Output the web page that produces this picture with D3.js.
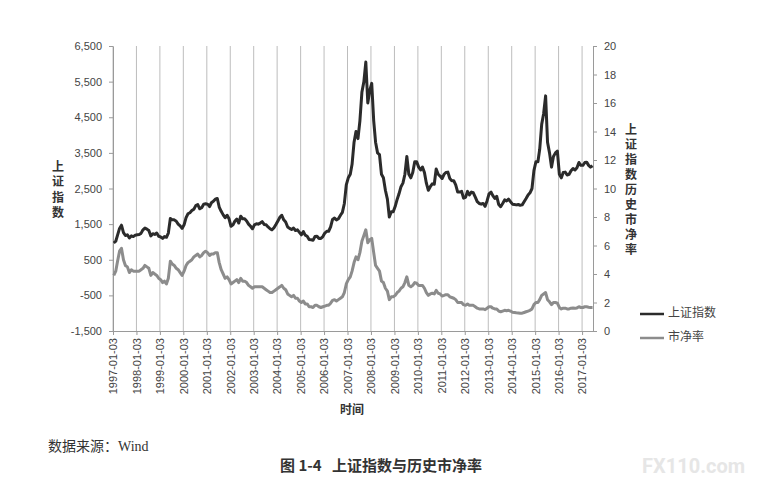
<!DOCTYPE html>
<html>
<head>
<meta charset="utf-8">
<script src="https://cdn.jsdelivr.net/npm/d3@7/dist/d3.min.js"></script>
<style>
  body { margin: 0; background: #fff; }
  svg { font-family: "Noto Sans", "Noto Sans CJK SC", sans-serif; }
</style>
</head>
<body>
<svg width="757" height="490" id="mainsvg"></svg>
<script>
// x tick labels (one per year)
const tickLabels = ['1997-01-03','1998-01-03','1999-01-03','2000-01-03','2001-01-03','2002-01-03',
  '2003-01-03','2004-01-03','2005-01-03','2006-01-03','2007-01-03','2008-01-03','2009-01-03',
  '2010-01-03','2011-01-03','2012-01-03','2013-01-03','2014-01-03','2015-01-03','2016-01-03','2017-01-03'];

// 上证指数, monthly, 1997-01 .. 2017-06
const sseIndex = [
  970, 1020, 1190, 1380, 1470, 1260, 1180, 1200, 1110, 1170, 1150, 1190,
  1200, 1210, 1240, 1340, 1390, 1360, 1320, 1170, 1230, 1210, 1250, 1160,
  1140, 1100, 1150, 1130, 1250, 1660, 1620, 1620, 1580, 1500, 1450, 1380,
  1480, 1680, 1790, 1820, 1880, 1920, 2020, 2050, 1930, 1960, 2060, 2070,
  2060, 1990, 2100, 2140, 2200, 2220, 1980, 1860, 1760, 1680, 1750, 1650,
  1440, 1480, 1580, 1640, 1530, 1720, 1650, 1650, 1590, 1500, 1440, 1370,
  1480, 1510, 1500, 1530, 1570, 1490, 1480, 1420, 1370, 1340, 1400, 1490,
  1590, 1690, 1750, 1620, 1560, 1420, 1380, 1350, 1390, 1320, 1340, 1270,
  1200, 1290, 1190, 1160, 1070, 1060, 1050, 1150, 1160, 1100, 1100, 1150,
  1250, 1300, 1300, 1420, 1630, 1670, 1620, 1650, 1750, 1830, 2080, 2600,
  2800, 2900, 3180, 3800, 4100, 3900, 4400, 5200, 5500, 6050, 4900, 5250,
  5450, 4400, 3800, 3500, 3450, 2900, 2800, 2450, 2200, 1700, 1850, 1850,
  2000, 2200, 2350, 2550, 2650, 2900, 3400, 2900, 2800, 2950, 3250, 3250,
  3100, 3020, 3100, 2950, 2650, 2450, 2550, 2630, 2620, 3050, 2900, 2850,
  2780, 2900, 2950, 2960, 2780, 2720, 2720, 2600, 2400, 2400, 2420, 2230,
  2250, 2420, 2320, 2400, 2380, 2260, 2130, 2080, 2060, 2080, 2000, 2150,
  2350, 2400, 2300, 2220, 2280, 2050, 1990, 2080, 2180, 2150, 2200, 2130,
  2060, 2050, 2040, 2050, 2030, 2040, 2130, 2220, 2320, 2380, 2500, 3000,
  3250, 3250, 3600, 4300, 4600, 5100, 3800, 3500, 3100, 3400, 3500, 3550,
  2900, 2800, 2950, 2960, 2880, 2900, 3000, 3060, 3020, 3080, 3230, 3150,
  3150, 3230, 3240, 3150, 3100, 3140
];

// 市净率, monthly, same months
const pbRatio = [
  3.9, 4.2, 4.9, 5.6, 5.8, 5.0, 4.6, 4.5, 4.1, 4.3, 4.2, 4.2,
  4.2, 4.2, 4.3, 4.4, 4.6, 4.5, 4.4, 3.9, 4.1, 4.0, 3.9, 3.7,
  3.6, 3.4, 3.5, 3.3, 3.7, 4.9, 4.7, 4.6, 4.4, 4.3, 4.1, 3.9,
  4.2, 4.6, 4.8, 4.9, 5.0, 5.2, 5.3, 5.4, 5.2, 5.3, 5.5, 5.6,
  5.5, 5.3, 5.4, 5.4, 5.5, 5.5, 4.8, 4.3, 4.0, 3.7, 3.8, 3.6,
  3.3, 3.4, 3.5, 3.6, 3.4, 3.7, 3.5, 3.5, 3.4, 3.2, 3.1, 3.0,
  3.1, 3.1, 3.1, 3.1, 3.1, 3.0, 2.9, 2.8, 2.7, 2.7, 2.8, 2.9,
  3.0, 3.1, 3.2, 3.0, 2.9, 2.6, 2.5, 2.4, 2.5, 2.3, 2.3, 2.1,
  2.0, 2.1, 1.9, 1.9, 1.7, 1.7, 1.65, 1.8, 1.8, 1.7, 1.65, 1.7,
  1.75, 1.8, 1.8, 1.95, 2.15, 2.2, 2.1, 2.2, 2.3, 2.4, 2.7, 3.3,
  3.6, 3.8, 4.2, 4.8, 5.2, 5.0, 5.5, 6.3, 6.7, 7.1, 6.2, 6.4,
  6.5, 5.5, 4.6, 4.4, 4.2, 3.5, 3.4, 3.0, 2.8, 2.2, 2.4, 2.4,
  2.5, 2.7, 2.8, 3.0, 3.1, 3.4, 3.8, 3.2, 3.1, 3.2, 3.4, 3.35,
  3.2, 3.2, 3.2, 3.0, 2.7, 2.5, 2.6, 2.65, 2.6, 2.85, 2.65, 2.6,
  2.45, 2.5, 2.55, 2.55, 2.4, 2.35, 2.3, 2.2, 2.0, 2.0, 2.0, 1.85,
  1.8, 1.9, 1.8, 1.8, 1.8, 1.7, 1.6, 1.55, 1.55, 1.55, 1.5, 1.6,
  1.7, 1.7, 1.6, 1.55, 1.55, 1.4, 1.35, 1.4, 1.45, 1.42, 1.45, 1.4,
  1.32, 1.3, 1.28, 1.27, 1.25, 1.25, 1.3, 1.35, 1.4, 1.45, 1.55, 1.85,
  2.0, 2.0, 2.2, 2.5, 2.6, 2.7, 2.2, 2.05, 1.85, 2.0, 2.0, 1.95,
  1.65, 1.55, 1.6, 1.6, 1.55, 1.55, 1.6, 1.62, 1.6, 1.62, 1.7, 1.65,
  1.65, 1.7, 1.7, 1.67, 1.65, 1.65
];

const leftTicks = [-1500, -500, 500, 1500, 2500, 3500, 4500, 5500, 6500];
const rightTicks = [0, 2, 4, 6, 8, 10, 12, 14, 16, 18, 20];

const svg = d3.select('#mainsvg');
const parse = d3.timeParse('%Y-%m-%d');
const months = sseIndex.map((v, i) => new Date(1997, i, 15));
const tickDates = tickLabels.map(parse);

const x = d3.scaleTime().domain([parse('1997-01-03'), parse('2017-06-22')]).range([113, 593]);
const yL = d3.scaleLinear().domain([-1500, 6500]).range([331, 46]);
const yR = d3.scaleLinear().domain([0, 20]).range([331, 46]);

// vertical gridlines
svg.append('g').selectAll('line').data(tickDates).enter().append('line')
  .attr('x1', d => x(d)).attr('x2', d => x(d))
  .attr('y1', yL(6500)).attr('y2', yL(-1500))
  .attr('stroke', '#bdbdbd').attr('stroke-width', 1);

const fmt = d => d3.format(',')(d).replace('\u2212', '-');

const styleAxis = g => {
  g.select('.domain').attr('stroke', '#9a9a9a');
  g.selectAll('.tick line').attr('stroke', '#9a9a9a');
  g.selectAll('.tick text').attr('fill', '#444').attr('font-size', 11);
};

svg.append('g').attr('transform', 'translate(113,0)')
  .call(d3.axisLeft(yL).tickValues(leftTicks).tickFormat(fmt).tickSize(4).tickPadding(7).tickSizeOuter(0))
  .call(styleAxis);

svg.append('g').attr('transform', 'translate(593,0)')
  .call(d3.axisRight(yR).tickValues(rightTicks).tickSize(4).tickPadding(7).tickSizeOuter(0))
  .call(styleAxis);

const xAxis = svg.append('g').attr('transform', 'translate(0,331)')
  .call(d3.axisBottom(x).tickValues(tickDates).tickFormat((d, i) => tickLabels[i]).tickSize(4).tickSizeOuter(0))
  .call(styleAxis);
xAxis.selectAll('.tick text')
  .attr('transform', 'rotate(-90)')
  .attr('text-anchor', 'end')
  .attr('x', -7).attr('y', 0).attr('dy', '0.35em');

// series
const lineL = d3.line().x((d, i) => x(months[i])).y(d => yL(d));
const lineR = d3.line().x((d, i) => x(months[i])).y(d => yR(d));

svg.append('path').datum(pbRatio).attr('d', lineR)
  .attr('fill', 'none').attr('stroke', '#8c8c8c').attr('stroke-width', 3).attr('stroke-linejoin', 'round');
svg.append('path').datum(sseIndex).attr('d', lineL)
  .attr('fill', 'none').attr('stroke', '#2b2b2b').attr('stroke-width', 3).attr('stroke-linejoin', 'round');

// axis titles, written top to bottom as one text each
const vText = (str, cx, yTop, spacing) => {
  svg.append('text')
    .attr('x', cx).attr('y', yTop)
    .style('writing-mode', 'vertical-rl').style('text-orientation', 'upright')
    .style('letter-spacing', spacing + 'px')
    .attr('font-family', '"Noto Sans CJK SC"').attr('font-size', 12).attr('font-weight', 'bold')
    .attr('fill', '#333').text(str);
};
vText('上证指数', 58, 160, 3.5);
vText('上证指数历史市净率', 631, 123, 3);

svg.append('text').attr('x', 352).attr('y', 411)
  .attr('text-anchor', 'middle').attr('dominant-baseline', 'middle')
  .attr('font-family', '"Noto Sans CJK SC"').attr('font-size', 12).attr('font-weight', 'bold')
  .attr('fill', '#333').text('时间');

// legend
const legend = [
  { name: '上证指数', color: '#2b2b2b', y: 314 },
  { name: '市净率', color: '#8c8c8c', y: 338 }
];
const lg = svg.append('g').selectAll('g').data(legend).enter().append('g');
lg.append('line').attr('x1', 640).attr('x2', 664).attr('y1', d => d.y).attr('y2', d => d.y)
  .attr('stroke', d => d.color).attr('stroke-width', 2.5);
lg.append('text').attr('x', 668).attr('y', d => d.y).attr('dominant-baseline', 'middle')
  .attr('font-family', '"Noto Sans CJK SC"').attr('font-size', 12).attr('fill', '#444')
  .text(d => d.name);

// source + caption
svg.append('text').attr('x', 48).attr('y', 448).attr('dominant-baseline', 'middle')
  .attr('font-family', '"Liberation Serif", "Noto Sans CJK SC"').attr('font-size', 14)
  .attr('fill', '#333').text('数据来源：Wind');

svg.append('text').attr('x', 381).attr('y', 467)
  .attr('text-anchor', 'middle').attr('dominant-baseline', 'middle')
  .attr('font-family', '"Noto Sans CJK SC"').attr('font-size', 15).attr('font-weight', 'bold')
  .attr('fill', '#333').attr('xml:space', 'preserve').text('图 1-4   上证指数与历史市净率');

svg.append('text').attr('x', 745).attr('y', 468)
  .attr('text-anchor', 'end').attr('dominant-baseline', 'middle')
  .attr('font-family', 'Roboto').attr('font-size', 20).attr('font-weight', 'bold')
  .attr('fill', '#e6e6e6').text('FX110.com');
</script>
</body>
</html>
